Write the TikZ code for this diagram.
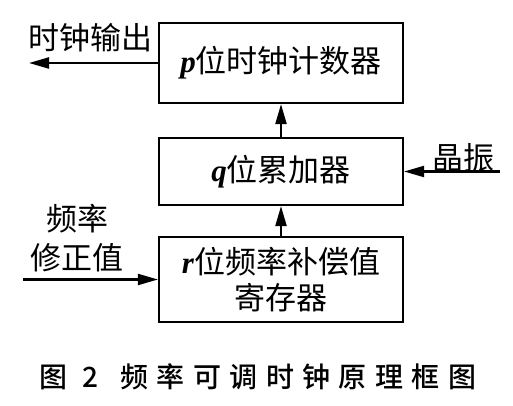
\documentclass[tikz,border=0pt]{standalone}
\usepackage{fontspec}
\setmainfont{Liberation Serif}
\newfontfamily\cjk{Noto Sans CJK SC}
\newfontfamily\cjkcap{Noto Sans CJK SC}[UprightFont=* Medium,LetterSpace=30]
\usetikzlibrary{arrows.meta,positioning}

% 斜体位数变量
\newcommand\bitvar[1]{{\rmfamily\bfseries\itshape #1}}

\begin{document}
\begin{tikzpicture}[x=1pt,y=-1pt,
    every node/.style={font=\cjk\fontsize{31}{36}\selectfont},
    block/.style={draw,line width=2.2pt,minimum width=244pt,inner sep=0pt},
    link/.style={line width=2.2pt,-{Triangle[length=20pt,width=11pt]}}]

    % 画布边界
    \useasboundingbox (0,0) rectangle (513,406);

    % 三个方框
    \node[block,minimum height=80pt] (cnt) at (281,63) {\bitvar{p}位时钟计数器};
    \node[block,minimum height=67pt] (acc) at (281,171.5) {\bitvar{q}位累加器};
    \node[block,minimum height=85pt,align=center] (reg) at (281,279.5)
        {\bitvar{r}位频率补偿值\\寄存器};

    % 方框之间的连线
    \draw[link] (reg) -- (acc);
    \draw[link] (acc) -- (cnt);

    % 左上：时钟输出
    \node (out) at (90,38) {时钟输出};
    \coordinate (outend) at (29,63);
    \draw[link] (cnt) -- (outend);

    % 右侧：晶振输入
    \node (osc) at (463,158) {晶振};
    \coordinate (oscin) at (500,171.5);
    \draw[link] (oscin) -- (acc);

    % 左下：频率修正值输入
    \node[align=center,font=\cjk\fontsize{31}{39}\selectfont] (corr) at (77,238) {频率\\修正值};
    \coordinate (corrin) at (23,279.5);
    \draw[link] (corrin) -- (reg);

    % 图题
    \node[font=\cjkcap\fontsize{28}{32}\selectfont] (cap) at (258,377)
        {图 2\hspace{22pt}频率可调时钟原理框图};

\end{tikzpicture}
\end{document}
